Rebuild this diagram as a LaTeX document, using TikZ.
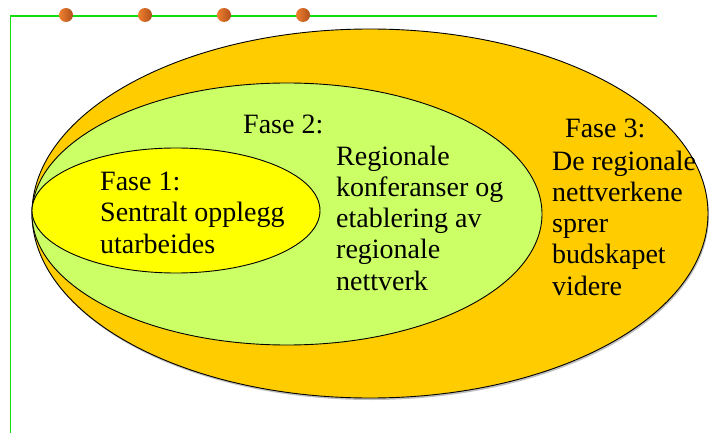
\documentclass[tikz,border=0pt]{standalone}
\usepackage{fontspec}
\setmainfont{Liberation Serif}
\definecolor{outerc}{HTML}{FFCC00}
\definecolor{midc}{HTML}{CCFF66}
\definecolor{innerc}{HTML}{FFFF00}
\definecolor{framec}{HTML}{11DD11}
\definecolor{dotl}{HTML}{F08030}
\definecolor{dotr}{HTML}{B0501A}
\tikzset{
  phase/.style={draw=black, line width=0.9pt},
  lbl/.style={anchor=base west, inner sep=0pt, align=left, font=\fontsize{28}{31.2}\selectfont},
  dot/.style={circle, minimum size=14pt, inner sep=0pt, left color=dotl, right color=dotr, draw=none},
  frame/.style={draw=framec, line width=1.3pt}
}
\begin{document}
\begin{tikzpicture}[x=1pt,y=1pt]
\useasboundingbox (0,0) rectangle (709,-433);
% frame lines
\coordinate (fa) at (10.5,-433);
\coordinate (fb) at (10.5,-16);
\coordinate (fc) at (657,-16);
\draw[frame] (fa) -- (fb) -- (fc);
\node[dot] (d1) at (66,-15) {};
\node[dot] (d2) at (145,-15) {};
\node[dot] (d3) at (224,-15) {};
\node[dot] (d4) at (303,-15) {};
% ellipses
\fill[black!25] (371,-215.5) ellipse [x radius=338, y radius=184.5];
\draw[phase, fill=outerc] (370,-213.5) ellipse [x radius=338, y radius=184.5];
\draw[phase, fill=midc] (287,-214) ellipse [x radius=255, y radius=131];
\draw[phase, fill=innerc] (176,-210.5) ellipse [x radius=144, y radius=62.5];
% texts (anchored at the baseline of the last line)
\node[lbl] (t1) at (100,-253) {Fase 1:\\Sentralt opplegg\\utarbeides};
\node[lbl] (t2a) at (243,-134) {Fase 2:};
\node[lbl] (t2b) at (336,-290) {Regionale\\konferanser og\\etablering av\\regionale\\nettverk};
\node[lbl] (t3a) at (565,-138) {Fase 3:};
\node[lbl] (t3b) at (552,-295) {De regionale\\nettverkene\\sprer\\budskapet\\videre};
\end{tikzpicture}
\end{document}
